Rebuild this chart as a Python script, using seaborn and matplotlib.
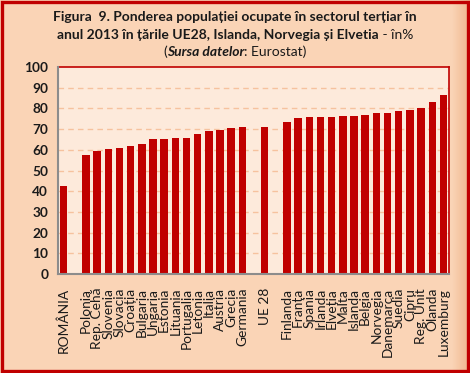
import numpy as np
import pandas as pd
import matplotlib
matplotlib.use("Agg")
import matplotlib.pyplot as plt
import seaborn as sns
from matplotlib.patches import Rectangle
from matplotlib.ticker import FixedLocator

countries = ["ROMÂNIA", "", "Polonia", "Rep. Cehă", "Slovenia", "Slovacia", "Croația",
             "Bulgaria", "Ungaria", "Estonia", "Lituania", "Portugalia", "Letonia",
             "Italia", "Austria", "Grecia", "Germania", "", "UE 28", "",
             "Finlanda", "Franța", "Spania", "Irlanda", "Elveția", "Malta", "Islanda",
             "Belgia", "Norvegia", "Danemarca", "Suedia", "Cipru", "Reg. Unit",
             "Olanda", "Luxemburg"]
values = [42.7, np.nan, 57.3, 59.5, 60.5, 60.8, 61.6,
          63.0, 65.0, 65.3, 65.8, 65.9, 67.7,
          69.3, 69.4, 70.6, 70.8, np.nan, 71.0, np.nan,
          73.2, 75.6, 75.7, 75.9, 76.0, 76.2, 76.5,
          76.7, 77.6, 78.0, 78.9, 79.3, 80.2,
          82.9, 86.7]
yticks = list(range(0, 101, 10))

keys = [c if c else f"_gap{i}" for i, c in enumerate(countries)]
df = pd.DataFrame({"key": keys, "val": values})

FONT = ["Lato", "DejaVu Sans"]
BG = "#FAD4B6"
PLOT_BG = "#FDEADB"
RED = "#C00000"
GRAY = "#8C8C8C"

sns.set_theme(style="white")
plt.rcParams["font.family"] = FONT

fig = plt.figure(figsize=(4.70, 3.73), dpi=100)
fig.patch.set_facecolor(BG)

# subtle shadow gradient on the right edge
gax = fig.add_axes([452/470, 0, 18/470, 1])
grad = np.linspace(0, 1, 64).reshape(1, -1)
from matplotlib.colors import LinearSegmentedColormap
cm = LinearSegmentedColormap.from_list("g", [BG, "#F0B68C"])
gax.imshow(grad, aspect="auto", cmap=cm, extent=[0, 1, 0, 1])
gax.set_axis_off()

ax = fig.add_axes([58/470, 1-274/373, (449-58)/470, (274-67)/373])
ax.set_facecolor(PLOT_BG)

sns.barplot(data=df, x="key", y="val", order=keys, color=RED, width=0.67,
            saturation=1, ax=ax, zorder=3)
for p in ax.patches:
    p.set_edgecolor("none")

ax.set_ylim(0, 100)
ax.set_xlim(-0.5, len(keys) - 0.5)
ax.set_yticks(yticks)
ax.set_yticklabels([str(t) for t in yticks], fontsize=9.8, fontweight="bold", color="#1a1a1a")
ax.set_xticks(range(len(keys)))
ax.set_xticklabels(countries, rotation=90, fontsize=9.9, color="#1a1a1a")
ax.xaxis.set_minor_locator(FixedLocator(np.arange(-0.5, len(keys), 1.0)))
ax.tick_params(axis="x", which="major", length=0, pad=10)
ax.tick_params(axis="x", which="minor", length=4, color=GRAY, width=1, direction="out")
ax.tick_params(axis="y", which="major", length=4, color=GRAY, width=1, direction="out", pad=3)
ax.set_xlabel("")
ax.set_ylabel("")

for t in yticks[1:-1]:
    ax.axhline(t, color="#F6C29E", lw=1, ls=(0, (4, 3)), zorder=1)

for s in ["top", "right"]:
    ax.spines[s].set_color(RED)
    ax.spines[s].set_linewidth(1.2)
for s in ["left", "bottom"]:
    ax.spines[s].set_color(GRAY)
    ax.spines[s].set_linewidth(1.5)
    ax.spines[s].set_zorder(4)

# figure border
fig.patches.append(Rectangle((0.004, 0.005), 0.992, 0.99, transform=fig.transFigure,
                             fill=False, edgecolor=RED, linewidth=2.4, zorder=10))

# title with mixed styles, centered lines
renderer = fig.canvas.get_renderer()

def rich_line(parts, y, size=10.0):
    texts = []
    for s, w, st in parts:
        t = fig.text(0, y, s, fontsize=size, fontweight=w, fontstyle=st,
                     ha="left", va="baseline", color="#1a1a1a")
        texts.append(t)
    widths = [t.get_window_extent(renderer).width for t in texts]
    total = sum(widths)
    x = (470 - total) / 2
    for t, w in zip(texts, widths):
        t.set_position((x / 470, y))
        x += w

rich_line([("Figura  9. Ponderea populației ocupate în sectorul terțiar în", "bold", "normal")], 1 - 21/373)
rich_line([("anul 2013 în țările UE28, Islanda, Norvegia și Elvetia", "bold", "normal"),
           (" - în%", "normal", "normal")], 1 - 39/373)
rich_line([("(", "normal", "normal"), ("Sursa datelor", "bold", "italic"),
           (": Eurostat)", "normal", "normal")], 1 - 56/373)

fig.savefig("out.png", dpi=100, facecolor=fig.get_facecolor())
